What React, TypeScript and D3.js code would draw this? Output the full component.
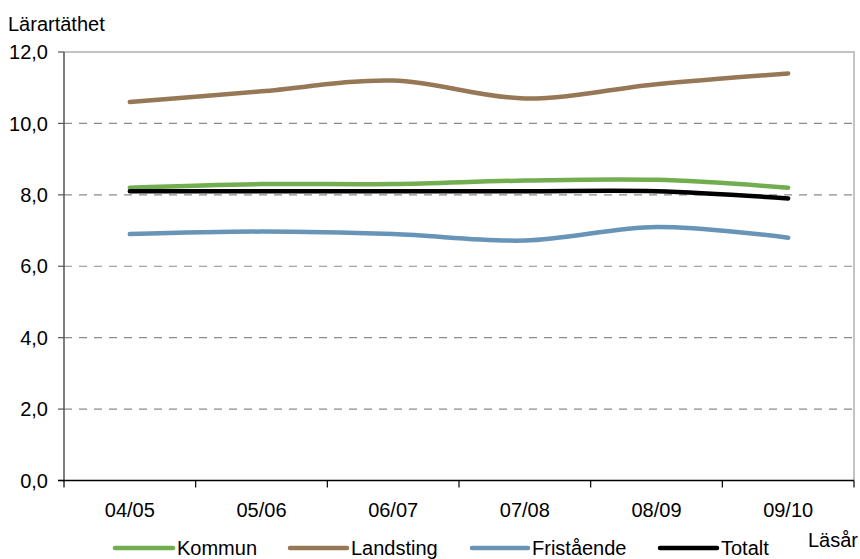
import React from "react";
import * as d3 from "d3";

const categories = ["04/05", "05/06", "06/07", "07/08", "08/09", "09/10"];
const kommun = [8.2, 8.3, 8.3, 8.4, 8.42, 8.2];
const landsting = [10.6, 10.9, 11.2, 10.7, 11.1, 11.4];
const fristaende = [6.9, 6.97, 6.9, 6.72, 7.1, 6.8];
const totalt = [8.1, 8.1, 8.1, 8.1, 8.1, 7.9];
const yTicks = [0, 2, 4, 6, 8, 10, 12];
const seriesNames = ["Kommun", "Landsting", "Fristående", "Totalt"];
const seriesColors = ["#72ad50", "#967856", "#6894b8", "#000000"];

const W = 860;
const H = 559;
const left = 64;
const right = 854;
const top = 52;
const bottom = 480.5;
const font = "'Liberation Sans', Arial, sans-serif";
const fs = 20;

export default function App() {
  const x = d3.scaleBand<string>().domain(categories).range([left, right]);
  const y = d3.scaleLinear().domain([0, 12]).range([bottom, top]);
  const seriesData = [kommun, landsting, fristaende, totalt];
  const line = d3
    .line<number>()
    .x((_, i) => (x(categories[i]) as number) + x.bandwidth() / 2)
    .y((d) => y(d))
    .curve(d3.curveCatmullRom.alpha(0.5));
  const fmt = (v: number) => v.toFixed(1).replace(".", ",");
  const tickXs = categories.map((c) => x(c) as number).concat([right]);
  const legendPos = [
    { x1: 115, x2: 173, tx: 177 },
    { x1: 290, x2: 347, tx: 351 },
    { x1: 472, x2: 528, tx: 532 },
    { x1: 660, x2: 717, tx: 721 },
  ];
  const legendY = 548;

  return (
    <svg
      width={W}
      height={H}
      style={{ position: "absolute", left: 0, top: 0 }}
      fontFamily={font}
    >
      <rect x={0} y={0} width={W} height={H} fill="#ffffff" />
      {yTicks
        .filter((t) => t > 0 && t < 12)
        .map((t) => (
          <line
            key={t}
            x1={left}
            x2={right}
            y1={y(t)}
            y2={y(t)}
            stroke="#8c8c8c"
            strokeWidth={1.2}
            strokeDasharray="8,7"
          />
        ))}
      <line x1={left} x2={right + 1} y1={y(12)} y2={y(12)} stroke="#c4c4c4" strokeWidth={2} />
      <line x1={right} x2={right} y1={y(12)} y2={bottom} stroke="#c4c4c4" strokeWidth={2} />
      <line x1={left} x2={left} y1={y(12)} y2={bottom + 1} stroke="#555" strokeWidth={1.5} />
      {yTicks.map((t) => (
        <g key={t}>
          <line x1={left - 6} x2={left} y1={y(t)} y2={y(t)} stroke="#555" strokeWidth={1.2} />
          <text x={48} y={y(t)} dy="0.36em" textAnchor="end" fontSize={fs} fill="#000">
            {fmt(t)}
          </text>
        </g>
      ))}
      <line x1={left - 6} x2={right} y1={bottom} y2={bottom} stroke="#000" strokeWidth={1.5} />
      {tickXs.map((tx, i) => (
        <line key={i} x1={tx} x2={tx} y1={bottom} y2={bottom + 7} stroke="#000" strokeWidth={1.2} />
      ))}
      {categories.map((c) => (
        <text
          key={c}
          x={(x(c) as number) + x.bandwidth() / 2}
          y={517}
          textAnchor="middle"
          fontSize={fs}
          fill="#000"
        >
          {c}
        </text>
      ))}
      {seriesData.map((s, i) => (
        <path
          key={seriesNames[i]}
          d={line(s) || ""}
          fill="none"
          stroke={seriesColors[i]}
          strokeWidth={4.5}
          strokeLinecap="round"
          strokeLinejoin="round"
        />
      ))}
      <text x={8} y={31} fontSize={fs} fill="#000">
        Lärartäthet
      </text>
      <text x={808} y={547} fontSize={fs} fill="#000">
        Läsår
      </text>
      {seriesNames.map((n, i) => (
        <g key={n}>
          <line
            x1={legendPos[i].x1}
            x2={legendPos[i].x2}
            y1={legendY}
            y2={legendY}
            stroke={seriesColors[i]}
            strokeWidth={4.5}
            strokeLinecap="round"
          />
          <text x={legendPos[i].tx} y={legendY} dy="0.36em" fontSize={fs} fill="#000">
            {n}
          </text>
        </g>
      ))}
    </svg>
  );
}
